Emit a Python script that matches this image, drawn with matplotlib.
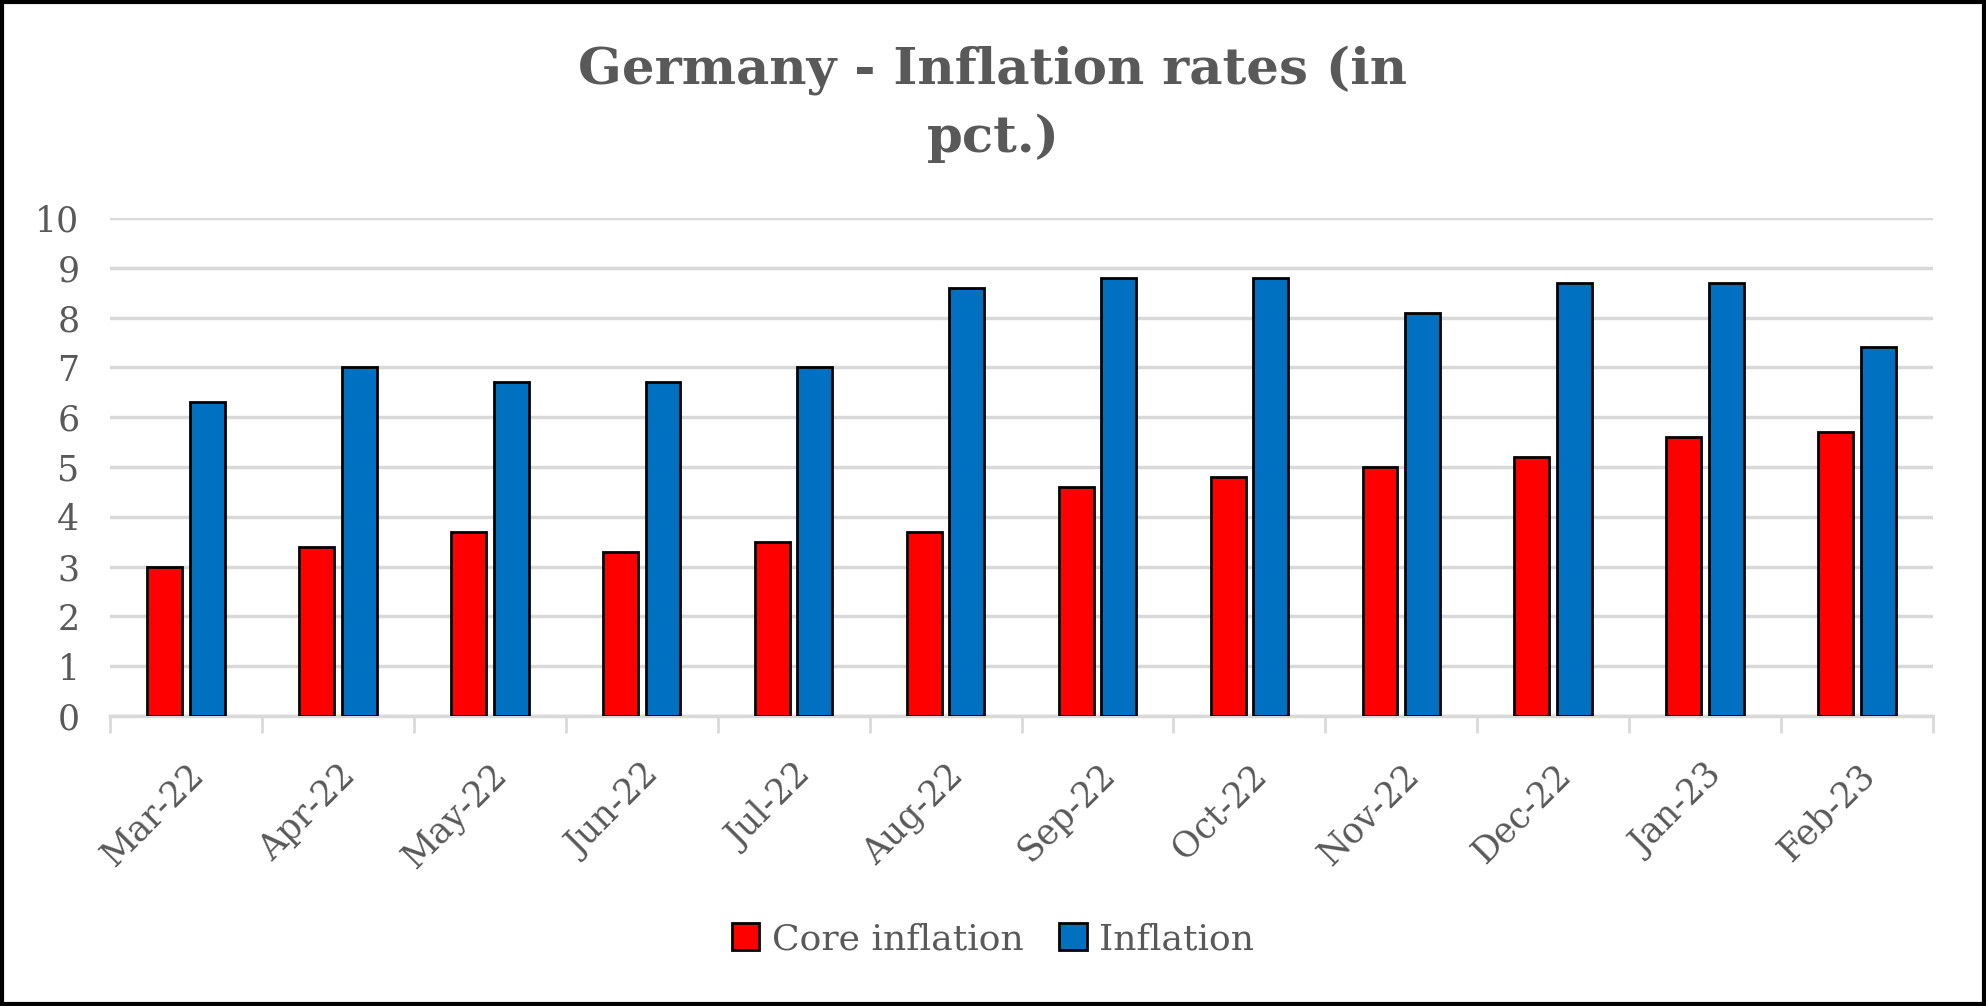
import matplotlib.pyplot as plt
import numpy as np

months = ["Mar-22", "Apr-22", "May-22", "Jun-22", "Jul-22", "Aug-22",
          "Sep-22", "Oct-22", "Nov-22", "Dec-22", "Jan-23", "Feb-23"]
core_inflation = [3.0, 3.4, 3.7, 3.3, 3.5, 3.7, 4.6, 4.8, 5.0, 5.2, 5.6, 5.7]
inflation = [6.3, 7.0, 6.7, 6.7, 7.0, 8.6, 8.8, 8.8, 8.1, 8.7, 8.7, 7.4]

grey = "#595959"
serif = ["DejaVu Serif", "Liberation Serif"]

fig = plt.figure(figsize=(19.86, 10.06), dpi=100)
ax = fig.add_axes([110 / 1986, 1 - 716 / 1006, 1823 / 1986, 498 / 1006])

x = np.arange(len(months))
w = 0.23
ax.bar(x - 0.14, core_inflation, w, color="#ff0000", edgecolor="black",
       linewidth=2, label="Core inflation", zorder=3)
ax.bar(x + 0.14, inflation, w, color="#0070c0", edgecolor="black",
       linewidth=2, label="Inflation", zorder=3)

ax.set_xlim(-0.5, len(months) - 0.5)
ax.set_ylim(0, 10)
ax.set_yticks(range(0, 11))
ax.yaxis.grid(True, color="#d9d9d9", linewidth=2.5, zorder=0)
ax.tick_params(axis="y", length=0, labelsize=25, labelcolor=grey, pad=22)
for lab in ax.get_yticklabels():
    lab.set_family(serif)

ax.set_xticks(x)
ax.set_xticklabels(months, rotation=45, ha="right", rotation_mode="anchor",
                   fontsize=25, color=grey, family=serif)
ax.tick_params(axis="x", length=0, pad=30)
# category boundary ticks
ax.set_xticks(np.arange(-0.5, len(months)), minor=True)
ax.tick_params(axis="x", which="minor", length=12, width=2, color="#d9d9d9")

for s in ["top", "right", "left"]:
    ax.spines[s].set_visible(False)
ax.spines["bottom"].set_color("#d9d9d9")
ax.spines["bottom"].set_linewidth(2.5)

fig.text(0.5, 1 - 104 / 1006, "Germany - Inflation rates (in\npct.)", ha="center",
         va="center", fontsize=37, fontweight="bold", color=grey, family=serif,
         linespacing=1.5)

leg = fig.legend(loc="center", bbox_to_anchor=(0.5, 1 - 939 / 1006), ncol=2,
                 frameon=False, prop={"family": serif, "size": 26},
                 handlelength=0.75, handleheight=0.75, columnspacing=1.0,
                 handletextpad=0.35)
for t in leg.get_texts():
    t.set_color(grey)

# black frame around the whole image
fig.patches.append(plt.Rectangle((0.001, 0.002), 0.998, 0.996, transform=fig.transFigure,
                                 fill=False, edgecolor="black", linewidth=3))

fig.savefig("out.png", dpi=100)
